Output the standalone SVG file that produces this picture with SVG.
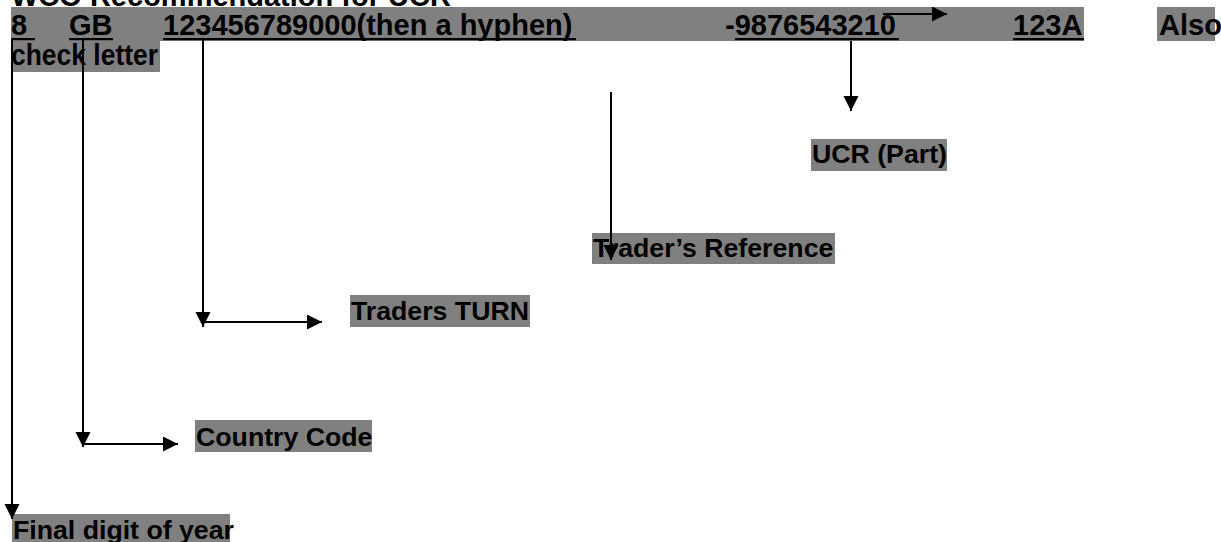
<svg xmlns="http://www.w3.org/2000/svg" width="1221" height="542" viewBox="0 0 1221 542">
<style>
.t{font-family:"Liberation Sans",Arial,sans-serif;font-weight:bold;fill:#000}
.r1{font-size:29px}
.lb{font-size:26.7px}
.bg{fill:#808080}
.ul{fill:#000}
.c{stroke:#000;stroke-width:2;fill:none}
</style>
<defs>
<marker id="ah" markerUnits="userSpaceOnUse" markerWidth="16" markerHeight="16" refX="15" refY="7.5" orient="auto">
<path d="M0,0 L15,7.5 L0,15 z" fill="#000"/>
</marker>
</defs>
<rect width="1221" height="542" fill="#fff"/>
<g id="title">
<text class="t r1" x="11" y="5.5">WCO Recommendation for UCR</text>
</g>
<g id="ucr-string">
<rect class="bg" x="11" y="7" width="1073" height="34"/>
<rect class="bg" x="11" y="41" width="149" height="31"/>
<rect class="bg" x="1157" y="7" width="58" height="34"/>
<text class="t r1" x="11" y="35">8</text>
<text class="t r1" x="69" y="35">GB</text>
<text class="t r1" x="163" y="35">123456789000(then a hyphen)</text>
<text class="t r1" x="725" y="35">-9876543210</text>
<text class="t r1" x="1013" y="35">123A</text>
<text class="t r1" x="1159" y="35">Also</text>
<text class="t r1" x="11" y="65" textLength="147" lengthAdjust="spacingAndGlyphs">check letter</text>
<rect class="ul" x="11" y="38" width="24" height="2.2"/>
<rect class="ul" x="69" y="38" width="44" height="2.2"/>
<rect class="ul" x="163" y="38" width="413" height="2.2"/>
<rect class="ul" x="735" y="38" width="164" height="2.2"/>
<rect class="ul" x="1013" y="38" width="71" height="2.2"/>
</g>
<g id="ucr-part">
<rect class="bg" x="811" y="139" width="136" height="32"/>
<text class="t lb" x="812" y="163">UCR (Part)</text>
</g>
<g id="traders-reference">
<rect class="bg" x="592" y="233" width="243" height="31"/>
<text class="t lb" x="593" y="257">Trader’s Reference</text>
</g>
<g id="traders-turn">
<rect class="bg" x="350" y="295" width="180" height="32"/>
<text class="t lb" x="351" y="320">Traders TURN</text>
</g>
<g id="country-code">
<rect class="bg" x="195" y="420" width="177" height="32"/>
<text class="t lb" x="196" y="446">Country Code</text>
</g>
<g id="final-digit">
<rect class="bg" x="12" y="514" width="218" height="28"/>
<text class="t lb" x="13" y="539">Final digit of year</text>
</g>
<g id="connectors">
<path class="c" d="M12 40 V519" marker-end="url(#ah)"/>
<path class="c" d="M83 40 V447" marker-end="url(#ah)"/>
<path class="c" d="M83 444 H178" marker-end="url(#ah)"/>
<path class="c" d="M203 40 V327" marker-end="url(#ah)"/>
<path class="c" d="M203 322 H322" marker-end="url(#ah)"/>
<path class="c" d="M611 92 V260" marker-end="url(#ah)"/>
<path class="c" d="M851 41 V111" marker-end="url(#ah)"/>
<path class="c" d="M883 14 H947" marker-end="url(#ah)"/>
</g>
</svg>
